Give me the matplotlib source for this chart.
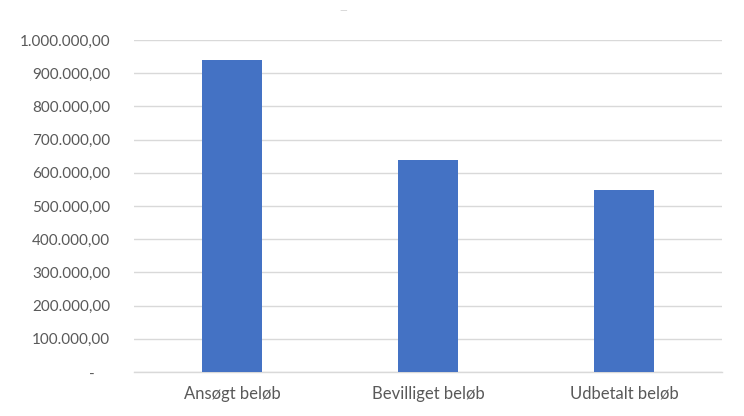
import matplotlib
matplotlib.use("Agg")
import matplotlib.pyplot as plt
from matplotlib.ticker import FuncFormatter, MultipleLocator

categories = ["Ansøgt beløb", "Bevilliget beløb", "Udbetalt beløb"]
values = [940000, 640000, 549000]

plt.rcParams['font.family'] = ['Lato', 'DejaVu Sans']

fig = plt.figure(figsize=(7.44, 4.16), dpi=100)
ax = fig.add_axes([134/744, 1-372/416, (722-134)/744, (372-40)/416])

x = range(len(categories))
ax.bar(x, values, width=0.31, color="#4472C4", zorder=3)

ax.set_xlim(-0.5, len(categories)-0.5)
ax.set_ylim(0, 1000000)
ax.yaxis.set_major_locator(MultipleLocator(100000))

def fmt(v, pos):
    if abs(v) < 1e-6:
        return "-    "
    s = f"{v:,.2f}"
    return s.replace(",", "X").replace(".", ",").replace("X", ".")

ax.yaxis.set_major_formatter(FuncFormatter(fmt))
ax.set_xticks(list(x))
ax.set_xticklabels(categories)

ax.grid(axis="y", color="#d9d9d9", linewidth=1, zorder=0)
for s in ["top", "right", "left"]:
    ax.spines[s].set_visible(False)
ax.spines["bottom"].set_color("#d9d9d9")
ax.spines["bottom"].set_linewidth(1)

ax.tick_params(axis="y", length=0, pad=17, labelsize=11, labelcolor="#595959")
ax.tick_params(axis="x", length=0, pad=10, labelsize=12, labelcolor="#595959")

fig.text(343/744, 1-11/416, "—", ha="center", va="center", fontsize=7, color="#cfcfcf")

fig.savefig("out.png", dpi=100, facecolor="white")
